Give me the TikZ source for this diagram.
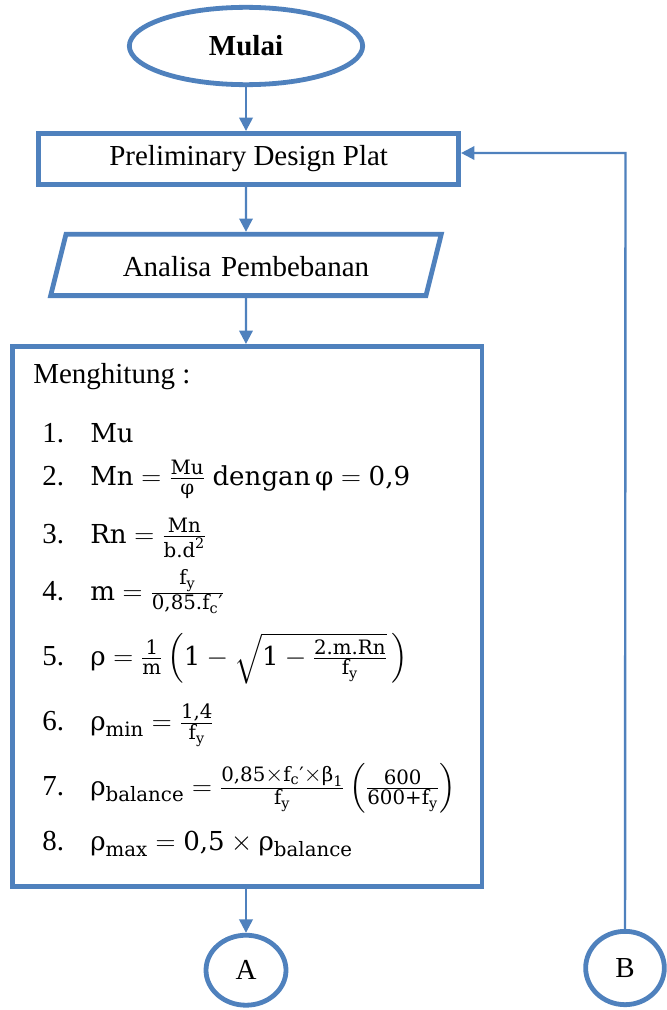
\documentclass[tikz,border=0pt]{standalone}
\usepackage{amsmath}
\usepackage{fontspec}
\setmainfont{Liberation Serif}
\newfontfamily\cmf[Scale=0.9]{DejaVu Serif}
\usetikzlibrary{arrows.meta,positioning,shapes.geometric,calc}
\definecolor{fblue}{HTML}{4F81BD}
\DeclareMathSizes{21.75}{21.75}{16.5}{12}
\newcommand{\tx}[1]{\text{\cmf #1}}
\tikzset{
  blk/.style  = {draw=fblue, line width=3.6pt, fill=white, align=center,
                 font=\fontsize{21.75}{26}\selectfont},
  term/.style = {blk, ellipse, inner sep=0pt},
  io/.style   = {blk, trapezium, trapezium left angle=76, trapezium right angle=104,
                 text width=204pt, text height=19pt, text depth=1pt,
                 inner xsep=33pt, inner ysep=13pt},
  ar/.style   = {draw=fblue, line width=1.8pt, -{Triangle[length=10pt,width=10pt]}},
  itm/.style  = {anchor=base west, inner sep=0pt, font=\fontsize{21.75}{26}\selectfont},
}

\begin{document}
\begin{tikzpicture}[x=0.75pt, y=-0.75pt]
  \useasboundingbox (0,0) rectangle (667,1010);
  \node[term, minimum width=175pt, minimum height=58pt] (mulai) at (246,46) {\textbf{Mulai}};
  \node[blk, below=33pt of mulai, xshift=2pt, minimum width=315pt, minimum height=38pt] (prelim)
    {Preliminary Design Plat};
  \node[io, below=34pt of prelim.south -| mulai] (beban) {Analisa Pembebanan};
  \node[blk, below=34.5pt of beban.south -| mulai, xshift=1pt, minimum width=352pt,
    minimum height=405pt] (hitung) {};
  \node[term, below=33pt of hitung.south -| mulai, minimum width=60pt, minimum height=52.5pt] (A) {A};
  \node[term, minimum width=59pt, minimum height=55pt] (B) at (625,968) {B};
  \coordinate (turn) at (625.5,153);

  % isi perhitungan
  \node[itm] (judul) at (33,383) {Menghitung :};
  \node[itm] (n1) at (42,442) {1.};
  \node[itm] (n2) at (42,485) {2.};
  \node[itm] (n3) at (42,543) {3.};
  \node[itm] (n4) at (42,600) {4.};
  \node[itm] (n5) at (42,665) {5.};
  \node[itm] (n6) at (42,730) {6.};
  \node[itm] (n7) at (42,795) {7.};
  \node[itm] (n8) at (42,850) {8.};
  \node[itm] (f1) at (90,442) {\tx{Mu}};
  \node[itm] (f2) at (90,485) {$\tx{Mn} = \frac{\tx{Mu}}{\tx{φ}}\ \tx{dengan}\,\tx{φ} = \tx{0,9}$};
  \node[itm] (f3) at (90,543) {$\tx{Rn} = \frac{\tx{Mn}}{\tx{b.d}^{\tx{2}}}$};
  \node[itm] (f4) at (90,600) {$\tx{m} = \frac{\tx{f}_{\tx{y}}}{\tx{0,85.f}_{\tx{c}}\tx{′}}$};
  \node[itm] (f5) at (90,665) {$\tx{ρ} = \frac{\tx{1}}{\tx{m}}\left(\tx{1} - \sqrt{\tx{1} -
    \frac{\tx{2.m.Rn}}{\tx{f}_{\tx{y}}}}\,\right)$};
  \node[itm] (f6) at (90,730) {$\tx{ρ}_{\tx{min}} = \frac{\tx{1,4}}{\tx{f}_{\tx{y}}}$};
  \node[itm] (f7) at (90,795) {$\tx{ρ}_{\tx{balance}} = \frac{\tx{0,85}\times\tx{f}_{\tx{c}}\tx{′}\times
    \tx{β}_{\tx{1}}}{\tx{f}_{\tx{y}}}\left(\frac{\tx{600}}{\tx{600+f}_{\tx{y}}}\right)$};
  \node[itm] (f8) at (90,850) {$\tx{ρ}_{\tx{max}} = \tx{0,5}\times\tx{ρ}_{\tx{balance}}$};

  \draw[ar] (mulai) -- (mulai |- prelim.north);
  \draw[ar] (prelim.south -| mulai) -- (beban);
  \draw[ar] (beban) -- (beban |- hitung.north);
  \draw[ar] (hitung.south -| A) -- (A);
  \draw[ar] (B) -- (turn) -- (prelim.east |- turn);
\end{tikzpicture}
\end{document}
